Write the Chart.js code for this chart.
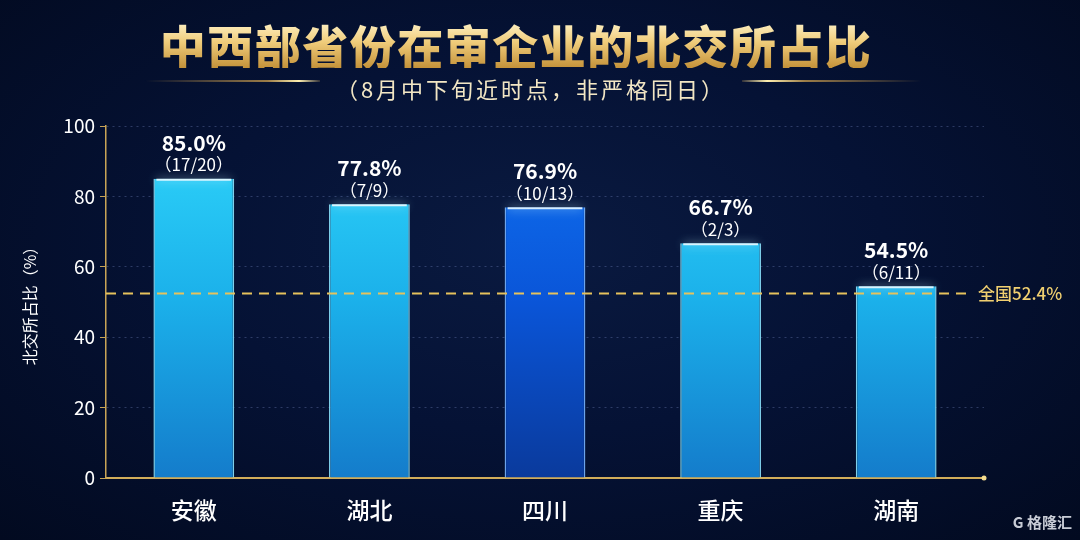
<!DOCTYPE html>
<html>
<head>
<meta charset="utf-8">
<script src="https://cdn.jsdelivr.net/npm/chart.js@4.4.1/dist/chart.umd.min.js"></script>
<style>
  html, body { margin: 0; padding: 0; background: #030c26; }
  #wrap {
    position: relative; width: 1080px; height: 540px; overflow: hidden;
    background: radial-gradient(ellipse at 50% 45%, #0a1a40 0%, #051235 45%, #020a20 100%);
    font-family: "Noto Sans CJK SC", "Noto Sans", sans-serif;
  }
  #myChart { position: absolute; left: 0; top: 0; }
  .title {
    position: absolute; left: -24px; top: 20px; width: 100%; text-align: center;
    font-size: 46px; line-height: 48px; font-weight: 900; letter-spacing: 1.5px;
    background: linear-gradient(180deg, #fff4cc 0%, #f0cd7c 45%, #c4923a 100%);
    -webkit-background-clip: text; background-clip: text; color: transparent;
  }
  .subtitle {
    position: absolute; left: -9px; top: 74px; width: 100%; text-align: center;
    font-size: 22px; line-height: 28px; letter-spacing: 3px; color: #f2e6c4;
  }
  .deco { position: absolute; top: 80px; height: 2px; }
  .deco.l { left: 145px; width: 175px; background: linear-gradient(90deg, rgba(200,150,60,0), rgba(220,170,80,0.7) 70%, #fff0b0 88%, rgba(220,170,80,0.2)); }
  .deco.r { left: 742px; width: 180px; background: linear-gradient(90deg, rgba(220,170,80,0.2), #fff0b0 14%, rgba(220,170,80,0.7) 35%, rgba(200,150,60,0)); }
  .mark { position: absolute; right: 8px; bottom: 8px; font-size: 15px; color: #c8ccd6; font-weight: 700; }
</style>
</head>
<body>
<div id="wrap">
  <canvas id="myChart" width="1080" height="540"></canvas>
  <div class="title">中西部省份在审企业的北交所占比</div>
  <div class="deco l"></div>
  <div class="deco r"></div>
  <div class="subtitle">（8月中下旬近时点，非严格同日）</div>
  <div class="mark">G 格隆汇</div>
</div>
<script>
const categories = ['安徽', '湖北', '四川', '重庆', '湖南'];
const shareValues = [85.0, 77.8, 76.9, 66.7, 54.5];
const fractionLabels = ['（17/20）', '（7/9）', '（10/13）', '（2/3）', '（6/11）'];
const nationalValue = 52.4;
const nationalLabel = '全国52.4%';
const highlightIndex = 2; // 四川

const ctx = document.getElementById('myChart');

// bar fill: cyan gradient, the highlighted bar deep blue
function barFill(c) {
    const chart = c.chart;
    const area = chart.chartArea;
    if (!area) return '#1cb8f0';
    const g = chart.ctx.createLinearGradient(0, area.top, 0, area.bottom);
    if (c.dataIndex === highlightIndex) {
        g.addColorStop(0, '#0f72f2');
        g.addColorStop(0.5, '#0a55d8');
        g.addColorStop(1, '#0a3a9c');
    } else {
        g.addColorStop(0, '#2fd6fb');
        g.addColorStop(0.5, '#1bb0ea');
        g.addColorStop(1, '#147ccb');
    }
    return g;
}

const labelPlugin = {
    id: 'labels',
    afterDatasetsDraw(chart) {
        const c = chart.ctx;
        const area = chart.chartArea;
        const meta = chart.getDatasetMeta(0);

        // glow on top of each bar
        meta.data.forEach((bar) => {
            const half = bar.width / 2;
            c.save();
            c.shadowColor = 'rgba(190,240,255,0.95)';
            c.shadowBlur = 10;
            c.strokeStyle = 'rgba(235,250,255,0.9)';
            c.lineWidth = 2;
            c.beginPath();
            c.moveTo(bar.x - half + 3, bar.y + 1);
            c.lineTo(bar.x + half - 3, bar.y + 1);
            c.stroke();
            c.restore();
        });

        // national reference line
        const yRef = chart.scales.y.getPixelForValue(nationalValue);
        c.save();
        c.strokeStyle = '#e6c25c';
        c.lineWidth = 2;
        c.setLineDash([10, 7]);
        c.beginPath();
        c.moveTo(area.left, yRef);
        c.lineTo(area.right - 14, yRef);
        c.stroke();
        c.setLineDash([]);
        c.fillStyle = '#f0cf70';
        c.font = '500 17px "Noto Sans CJK SC"';
        c.textAlign = 'left';
        c.textBaseline = 'middle';
        c.fillText(nationalLabel, area.right - 6, yRef);
        c.restore();

        // value labels
        meta.data.forEach((bar, i) => {
            c.save();
            c.fillStyle = '#ffffff';
            c.textAlign = 'center';
            c.textBaseline = 'middle';
            c.font = 'bold 21px "Noto Sans CJK SC"';
            c.fillText(shareValues[i].toFixed(1) + '%', bar.x, bar.y - 36);
            c.font = '17px "Noto Sans CJK SC"';
            c.fillText(fractionLabels[i], bar.x, bar.y - 14);
            c.restore();
        });

        // dot at end of x axis
        c.save();
        c.fillStyle = '#f5dc90';
        c.beginPath();
        c.arc(area.right, area.bottom, 2.5, 0, Math.PI * 2);
        c.fill();
        c.restore();
    }
};

new Chart(ctx, {
    type: 'bar',
    data: {
        labels: categories,
        datasets: [{
            label: '北交所占比',
            data: shareValues,
            backgroundColor: barFill,
            borderColor: (c) => c.dataIndex === highlightIndex ? 'rgba(120,180,255,0.9)' : 'rgba(140,230,255,0.9)',
            borderWidth: { left: 1.5, right: 1.5, top: 0, bottom: 0 },
            borderSkipped: false,
            barPercentage: 0.46,
            categoryPercentage: 1
        }]
    },
    options: {
        responsive: false,
        animation: false,
        layout: { padding: { top: 126, right: 96, bottom: 10, left: 0 } },
        plugins: {
            legend: { display: false },
            tooltip: { enabled: false }
        },
        scales: {
            x: {
                afterFit: (s) => { s.height = 52; },
                grid: { display: false },
                border: { display: true, color: '#d2ad5a', width: 2 },
                ticks: {
                    color: '#ffffff',
                    padding: 10,
                    font: { family: 'Noto Sans CJK SC', size: 23, weight: '500' }
                }
            },
            y: {
                min: 0,
                max: 100,
                afterFit: (s) => { s.width = 106; },
                border: { display: true, color: '#c9a456', width: 1.5, dash: [2, 4] },
                grid: {
                    color: 'rgba(110,130,185,0.38)',
                    lineWidth: 1,
                    tickLength: 6,
                    tickColor: '#c9a456',
                    tickBorderDash: [0, 0]
                },
                ticks: {
                    stepSize: 20,
                    color: '#ffffff',
                    padding: 5,
                    font: { family: 'Noto Sans CJK SC', size: 19 }
                },
                title: {
                    display: true,
                    text: '北交所占比（%）',
                    color: '#ffffff',
                    padding: { top: 20, bottom: 0 },
                    font: { family: 'Noto Sans CJK SC', size: 16 }
                }
            }
        }
    },
    plugins: [labelPlugin]
});
</script>
</body>
</html>
